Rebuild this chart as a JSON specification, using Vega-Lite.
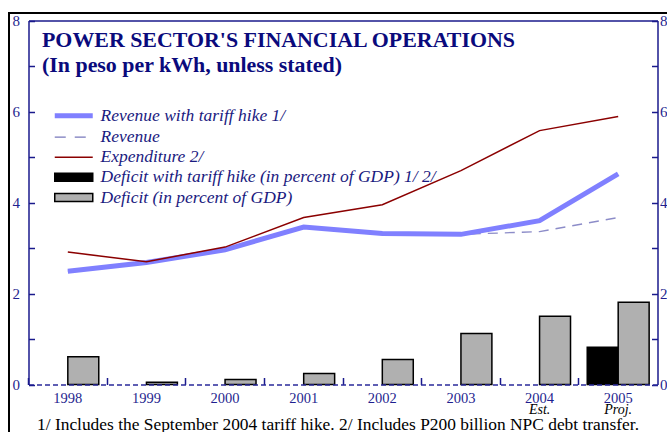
{
  "$schema": "https://vega.github.io/schema/vega-lite/v6.json",
  "width": 658,
  "height": 419,
  "autosize": {"type": "none"},
  "padding": {"left": 9, "top": 13, "right": 0, "bottom": 0},
  "background": "white",
  "config": {
    "font": "Liberation Serif",
    "view": {"stroke": "black", "strokeWidth": 2, "strokeDash": [658, 1077, 419]},
    "axis": {"grid": false}
  },
  "title": {
    "text": "POWER SECTOR'S FINANCIAL OPERATIONS",
    "subtitle": "(In peso per kWh, unless stated)",
    "anchor": "start",
    "frame": "group",
    "orient": "top",
    "offset": -64,
    "dx": 33,
    "font": "Liberation Serif",
    "fontSize": 21.9,
    "fontWeight": "bold",
    "color": "#0a0a7c",
    "subtitleFont": "Liberation Serif",
    "subtitleFontSize": 21.9,
    "subtitleFontWeight": "bold",
    "subtitleColor": "#0a0a7c",
    "subtitlePadding": 3
  },
  "data": {
    "values": [
      {"year": "1998", "series": "Revenue with tariff hike 1/", "value": 2.49},
      {"year": "1999", "series": "Revenue with tariff hike 1/", "value": 2.68},
      {"year": "2000", "series": "Revenue with tariff hike 1/", "value": 2.96},
      {"year": "2001", "series": "Revenue with tariff hike 1/", "value": 3.46},
      {"year": "2002", "series": "Revenue with tariff hike 1/", "value": 3.32},
      {"year": "2003", "series": "Revenue with tariff hike 1/", "value": 3.30},
      {"year": "2004", "series": "Revenue with tariff hike 1/", "value": 3.60},
      {"year": "2005", "series": "Revenue with tariff hike 1/", "value": 4.63},
      {"year": "1998", "series": "Revenue", "value": 2.49},
      {"year": "1999", "series": "Revenue", "value": 2.68},
      {"year": "2000", "series": "Revenue", "value": 2.96},
      {"year": "2001", "series": "Revenue", "value": 3.46},
      {"year": "2002", "series": "Revenue", "value": 3.32},
      {"year": "2003", "series": "Revenue", "value": 3.30},
      {"year": "2004", "series": "Revenue", "value": 3.36},
      {"year": "2005", "series": "Revenue", "value": 3.67},
      {"year": "1998", "series": "Expenditure 2/", "value": 2.91},
      {"year": "1999", "series": "Expenditure 2/", "value": 2.70},
      {"year": "2000", "series": "Expenditure 2/", "value": 3.02},
      {"year": "2001", "series": "Expenditure 2/", "value": 3.67},
      {"year": "2002", "series": "Expenditure 2/", "value": 3.95},
      {"year": "2003", "series": "Expenditure 2/", "value": 4.70},
      {"year": "2004", "series": "Expenditure 2/", "value": 5.58},
      {"year": "2005", "series": "Expenditure 2/", "value": 5.89},
      {"year": "2005", "series": "Deficit with tariff hike (in percent of GDP) 1/ 2/", "value": 0.82},
      {"year": "1998", "series": "Deficit (in percent of GDP)", "value": 0.61},
      {"year": "1999", "series": "Deficit (in percent of GDP)", "value": 0.05},
      {"year": "2000", "series": "Deficit (in percent of GDP)", "value": 0.11},
      {"year": "2001", "series": "Deficit (in percent of GDP)", "value": 0.24},
      {"year": "2002", "series": "Deficit (in percent of GDP)", "value": 0.55},
      {"year": "2003", "series": "Deficit (in percent of GDP)", "value": 1.12},
      {"year": "2004", "series": "Deficit (in percent of GDP)", "value": 1.50},
      {"year": "2005", "series": "Deficit (in percent of GDP)", "value": 1.81}
    ]
  },
  "layer": [
    {
      "transform": [{"filter": "datum.series === 'Deficit with tariff hike (in percent of GDP) 1/ 2/' || datum.series === 'Deficit (in percent of GDP)'"}],
      "mark": {"type": "bar", "stroke": "black", "strokeWidth": 1.5, "opacity": 1},
      "encoding": {
        "x": {
          "field": "year", "type": "ordinal",
          "scale": {"type": "band", "domain": ["1998", "1999", "2000", "2001", "2002", "2003", "2004", "2005"], "range": [19.5, 648.5], "paddingInner": 0, "paddingOuter": 0},
          "axis": {
            "orient": "bottom", "offset": -47.5, "bandPosition": 0,
            "domainDash": [5, 3], "domainColor": "#2a2a9a", "domainWidth": 1.5,
            "tickSize": -7, "tickColor": "#1a1a8c", "tickWidth": 1.5,
            "labelFont": "Liberation Serif", "labelFontSize": 14.5, "labelColor": "#1f1f8f", "labelPadding": 14, "labelAngle": 0,
            "title": "1/ Includes the September 2004 tariff hike. 2/ Includes P200 billion NPC debt transfer.",
            "titleFont": "Liberation Serif", "titleFontSize": 17.4, "titleFontWeight": "normal", "titleColor": "black", "titlePadding": 10,
            "titleX": 328.5, "titleAlign": "center",
            "zindex": 1
          }
        },
        "xOffset": {
          "field": "series",
          "scale": {"domain": ["Deficit with tariff hike (in percent of GDP) 1/ 2/", "Deficit (in percent of GDP)"], "paddingInner": 0, "paddingOuter": 0.27}
        },
        "y": {
          "field": "value", "type": "quantitative",
          "scale": {"domain": [0, 8], "range": [371.5, 7.5], "nice": false, "zero": true},
          "axis": {
            "orient": "left", "offset": -19.5, "values": [0, 1, 2, 3, 4, 5, 6, 7, 8],
            "labelExpr": "datum.value % 2 === 0 ? datum.label : ''",
            "tickSize": -6, "tickWidth": 1.5, "tickColor": "#1a1a8c",
            "domainColor": "#1a1a8c", "domainWidth": 1.5,
            "labelFont": "Liberation Serif", "labelFontSize": 15, "labelColor": "#1f1f8f", "labelPadding": 15,
            "title": null, "zindex": 1
          }
        },
        "color": {
          "field": "series", "type": "nominal",
          "scale": {
            "domain": ["Deficit with tariff hike (in percent of GDP) 1/ 2/", "Deficit (in percent of GDP)"],
            "range": ["#000000", "#b0b0b0"]
          },
          "legend": {
            "orient": "none", "legendX": 37, "legendY": 155.5, "title": null, "padding": 0,
            "direction": "vertical",
            "symbolType": "M0,-0.8H7.6V0.8H0Z",
            "symbolSize": 100, "labelOffset": 37, "rowPadding": 1.3,
            "symbolStrokeColor": "black", "symbolStrokeWidth": 1.5, "symbolOpacity": 1,
            "labelFont": "Liberation Serif", "labelFontStyle": "italic", "labelFontSize": 17.5, "labelColor": "#1a1a80", "labelLimit": 600
          }
        }
      }
    },
    {
      "transform": [{"filter": "datum.series === 'none'"}],
      "mark": {"type": "line"},
      "encoding": {
        "x": {"field": "year", "type": "ordinal", "axis": null},
        "y": {"field": "value", "type": "quantitative", "axis": null},
        "stroke": {
          "field": "series", "type": "nominal",
          "scale": {"domain": ["Revenue with tariff hike 1/", "Revenue", "Expenditure 2/"], "range": ["#8080ff", "#7878bc", "#8b0000"]},
          "legend": {
            "orient": "none", "legendX": 37, "legendY": 94, "title": null, "padding": 0,
            "direction": "vertical",
            "symbolType": "M0,0H7.6",
            "symbolSize": 100, "labelOffset": 37, "rowPadding": 1.3, "symbolOpacity": 1,
            "labelFont": "Liberation Serif", "labelFontStyle": "italic", "labelFontSize": 17.5, "labelColor": "#1a1a80", "labelLimit": 600
          }
        },
        "strokeDash": {
          "field": "series", "type": "nominal",
          "scale": {"domain": ["Revenue with tariff hike 1/", "Revenue", "Expenditure 2/"], "range": [[1, 0], [11, 9], [1, 0]]},
          "legend": {
            "orient": "none", "legendX": 37, "legendY": 94, "title": null, "padding": 0,
            "direction": "vertical",
            "symbolType": "M0,0H7.6",
            "symbolSize": 100, "labelOffset": 37, "rowPadding": 1.3, "symbolOpacity": 1,
            "labelFont": "Liberation Serif", "labelFontStyle": "italic", "labelFontSize": 17.5, "labelColor": "#1a1a80", "labelLimit": 600
          }
        },
        "strokeWidth": {
          "field": "series", "type": "nominal",
          "scale": {"type": "ordinal", "domain": ["Revenue with tariff hike 1/", "Revenue", "Expenditure 2/"], "range": [5, 1.2, 1.5]},
          "legend": {
            "orient": "none", "legendX": 37, "legendY": 94, "title": null, "padding": 0,
            "direction": "vertical",
            "symbolType": "M0,0H7.6",
            "symbolSize": 100, "labelOffset": 37, "rowPadding": 1.3, "symbolOpacity": 1,
            "labelFont": "Liberation Serif", "labelFontStyle": "italic", "labelFontSize": 17.5, "labelColor": "#1a1a80", "labelLimit": 600
          }
        }
      }
    },
    {
      "transform": [{"filter": "datum.series === 'Revenue'"}],
      "mark": {"type": "line", "stroke": "#8c8cc8", "strokeWidth": 1.3, "strokeDash": [10, 7]},
      "encoding": {
        "x": {"field": "year", "type": "ordinal", "axis": null},
        "y": {"field": "value", "type": "quantitative", "axis": null}
      }
    },
    {
      "transform": [{"filter": "datum.series === 'Revenue with tariff hike 1/'"}],
      "mark": {"type": "line", "stroke": "#8080ff", "strokeWidth": 5},
      "encoding": {
        "x": {
          "field": "year", "type": "ordinal",
          "axis": {"orient": "top", "offset": -7.5, "ticks": false, "labels": false, "domainColor": "#1a1a8c", "domainWidth": 1.5, "title": null}
        },
        "y": {
          "field": "value", "type": "quantitative",
          "axis": {
            "orient": "right", "offset": -9.5, "values": [0, 1, 2, 3, 4, 5, 6, 7, 8],
            "labelExpr": "datum.value % 2 === 0 ? datum.label : ''",
            "tickSize": -6, "tickWidth": 1.5, "tickColor": "#1a1a8c",
            "domainColor": "#1a1a8c", "domainWidth": 1.5,
            "labelFont": "Liberation Serif", "labelFontSize": 15, "labelColor": "#1f1f8f", "labelPadding": 8,
            "title": null
          }
        }
      }
    },
    {
      "transform": [{"filter": "datum.series === 'Expenditure 2/'"}],
      "mark": {"type": "line", "stroke": "#8b0000", "strokeWidth": 1.5},
      "encoding": {
        "x": {"field": "year", "type": "ordinal", "axis": null},
        "y": {"field": "value", "type": "quantitative", "axis": null}
      }
    },
    {
      "data": {"values": [{"year": "2004", "note": "Est."}, {"year": "2005", "note": "Proj."}]},
      "mark": {"type": "text", "font": "Liberation Serif", "fontStyle": "italic", "fontSize": 14, "color": "black", "baseline": "middle", "dy": 25},
      "encoding": {
        "x": {"field": "year", "type": "ordinal", "axis": null},
        "y": {"datum": 0, "type": "quantitative", "axis": null},
        "text": {"field": "note"}
      }
    }
  ],
  "resolve": {"axis": {"x": "independent", "y": "independent"}}
}
